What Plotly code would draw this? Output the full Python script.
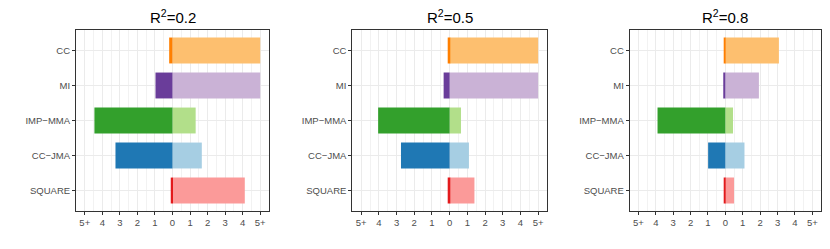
import plotly.graph_objects as go

categories = ["SQUARE", "CC\u2212JMA", "IMP\u2212MMA", "MI", "CC"]
panel_titles = ["R<sup>2</sup>=0.2", "R<sup>2</sup>=0.5", "R<sup>2</sup>=0.8"]

# negative (dark) and positive (light) parts per panel, in category order
neg_02 = [-0.10, -3.25, -4.45, -0.97, -0.19]
pos_02 = [4.12, 1.67, 1.32, 5.0, 5.0]
neg_05 = [-0.11, -2.75, -4.04, -0.34, -0.11]
pos_05 = [1.40, 1.09, 0.64, 5.0, 5.0]
neg_08 = [-0.08, -0.99, -3.90, -0.12, -0.05]
pos_08 = [0.50, 1.10, 0.44, 1.93, 3.08]

dark_colors = ["#E31A1C", "#1F78B4", "#33A02C", "#6A3D9A", "#FF7F00"]
light_colors = ["#FB9A99", "#A6CEE3", "#B2DF8A", "#CAB2D6", "#FDBF6F"]

tick_vals = [-5, -4, -3, -2, -1, 0, 1, 2, 3, 4, 5]
tick_text = ["5+", "4", "3", "2", "1", "0", "1", "2", "3", "4", "5+"]

negs = [neg_02, neg_05, neg_08]
poss = [pos_02, pos_05, pos_08]

# page has 8px body margin: work in page px, convert to figure px
OFF = 8
W, H = 830 - OFF, 249 - OFF
x_dom_px = [(76, 269), (352.3, 547), (629.7, 821)]
y_top, y_bot = 30, 211

fig = go.Figure()
font_family = "Liberation Sans, Arial, Helvetica, sans-serif"
TICK_SIZE = 9.5

for i in range(3):
    xa = "x" if i == 0 else f"x{i+1}"
    ya = "y" if i == 0 else f"y{i+1}"
    fig.add_trace(go.Bar(
        y=categories, x=poss[i], base=0, orientation="h",
        marker=dict(color=light_colors, line=dict(width=0)),
        width=0.74, xaxis=xa, yaxis=ya, showlegend=False, hoverinfo="x+y"))
    fig.add_trace(go.Bar(
        y=categories, x=negs[i], base=0, orientation="h",
        marker=dict(color=dark_colors, line=dict(width=0)),
        width=0.74, xaxis=xa, yaxis=ya, showlegend=False, hoverinfo="x+y"))

layout = dict(
    width=W, height=H,
    margin=dict(l=0, r=0, t=0, b=0),
    paper_bgcolor="white", plot_bgcolor="white",
    barmode="overlay",
    font=dict(family=font_family, color="#4D4D4D", size=TICK_SIZE),
)
annotations = []
for i in range(3):
    x0, x1 = x_dom_px[i]
    x0 -= OFF
    x1 -= OFF
    key = "" if i == 0 else str(i + 1)
    layout["xaxis" + key] = dict(
        domain=[x0 / W, x1 / W], anchor="y" + key,
        range=[-5.5, 5.5], tickvals=tick_vals, ticktext=tick_text,
        showgrid=True, gridcolor="#EBEBEB", gridwidth=1,
        minor=dict(dtick=0.5, tick0=0, showgrid=True, gridcolor="#F2F2F2", gridwidth=0.6),
        zeroline=False, showline=True, mirror=True, linecolor="#333333", linewidth=1,
        ticks="outside", ticklen=3, tickcolor="#333333", tickwidth=1,
        tickfont=dict(size=TICK_SIZE, color="#4D4D4D"), fixedrange=True,
    )
    layout["yaxis" + key] = dict(
        domain=[1 - (y_bot - OFF) / H, 1 - (y_top - OFF) / H], anchor="x" + key,
        type="category", categoryorder="array", categoryarray=categories,
        range=[-0.585, 4.585],
        showgrid=True, gridcolor="#EBEBEB", gridwidth=1,
        zeroline=False, showline=True, mirror=True, linecolor="#333333", linewidth=1,
        ticks="outside", ticklen=3, tickcolor="#333333", tickwidth=1,
        tickfont=dict(size=TICK_SIZE, color="#4D4D4D"), fixedrange=True,
    )
    annotations.append(dict(
        text=panel_titles[i], x=(x0 + x1) / 2 / W, y=1 - (17 - OFF) / H,
        xref="paper", yref="paper", showarrow=False,
        xanchor="center", yanchor="middle",
        font=dict(size=15, color="black", family=font_family)))
layout["annotations"] = annotations
fig.update_layout(**layout)

fig.write_html("out.html")
